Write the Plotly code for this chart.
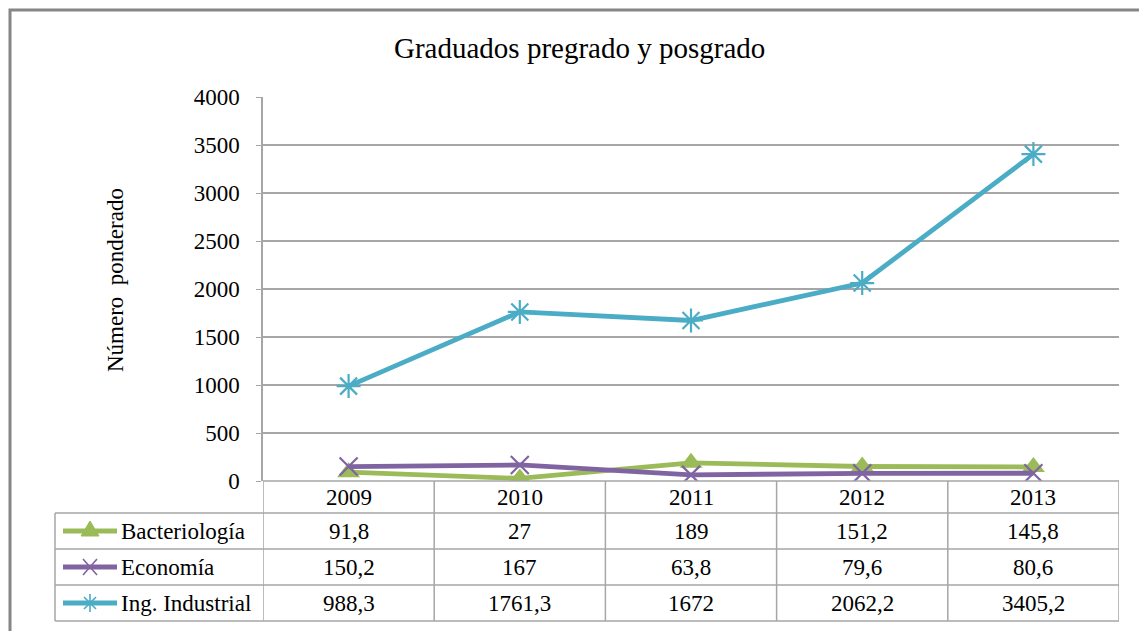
import plotly.graph_objects as go

# data
years = ['2009', '2010', '2011', '2012', '2013']
bacteriologia = [91.8, 27, 189, 151.2, 145.8]
economia = [150.2, 167, 63.8, 79.6, 80.6]
ing_industrial = [988.3, 1761.3, 1672, 2062.2, 3405.2]

series = [
    ('Bacteriología', bacteriologia, '#9BBB59', dict(symbol='triangle-up', size=20)),
    ('Economía', economia, '#8064A2', dict(symbol='x-thin-open', size=18, line=dict(width=2.2))),
    ('Ing. Industrial', ing_industrial, '#4BACC6', dict(symbol='asterisk-open', size=20, line=dict(width=2.2))),
]

# legend key glyphs (pixel paths around the key centre, y points up)
key_paths = {
    'triangle-up': ('M -9 -5 L 9 -5 L 0 10 Z', True),
    'x-thin-open': ('M -7 -8 L 7 8 M -7 8 L 7 -8', False),
    'asterisk-open': ('M 0 -9 L 0 9 M -8 0 L 8 0 M -6 -6 L 6 6 M -6 6 L 6 -6', False),
}

W, H = 1139, 631
L, R, T, B = 263, 1119, 97, 481
FONT = 'Liberation Serif'
GRID = '#A6A6A6'


def px(x):
    return (x - L) / (R - L)


def py(y):
    return (B - y) / (B - T)


fig = go.Figure()

for name, vals, color, marker in series:
    fig.add_trace(go.Scatter(
        x=years, y=vals, name=name, mode='lines+markers',
        line=dict(color=color, width=4.8),
        marker=dict(color=color, **marker),
        showlegend=False,
    ))

shapes = []
annotations = []

# outer chart border
shapes.append(dict(type='rect', xref='paper', yref='paper',
                   x0=px(10), x1=px(W + 10), y0=py(H + 10), y1=py(10),
                   line=dict(color='#868686', width=3), layer='below'))

# data table
rows = [(513, 549), (549, 585), (585, 621)]
tline = dict(color=GRID, width=1.5)
shapes.append(dict(type='line', xref='paper', yref='paper', x0=0, x1=1,
                   y0=py(481), y1=py(481), line=tline))
for top, bot in rows:
    shapes.append(dict(type='line', xref='paper', yref='paper', x0=px(55), x1=1,
                       y0=py(top), y1=py(top), line=tline))
shapes.append(dict(type='line', xref='paper', yref='paper', x0=px(55), x1=1,
                   y0=py(621), y1=py(621), line=tline))
shapes.append(dict(type='line', xref='paper', yref='paper', x0=px(55), x1=px(55),
                   y0=py(513), y1=py(621), line=tline))
for i in range(len(years) + 1):
    shapes.append(dict(type='line', xref='x', yref='paper', x0=i - 0.5, x1=i - 0.5,
                       y0=py(481), y1=py(621), line=tline))

tfont = dict(family=FONT, size=23, color='black')
for i, yr in enumerate(years):
    annotations.append(dict(x=i, y=py(497), xref='x', yref='paper', text=yr,
                            showarrow=False, font=tfont, xanchor='center', yanchor='middle'))

for (name, vals, color, marker), (top, bot) in zip(series, rows):
    cy = (top + bot) / 2
    annotations.append(dict(x=px(119), y=py(cy), xref='paper', yref='paper', text=name,
                            showarrow=False, font=tfont, xanchor='left', yanchor='middle'))
    for i, v in enumerate(vals):
        annotations.append(dict(x=i, y=py(cy), xref='x', yref='paper',
                                text=f'{v:g}'.replace('.', ','),
                                showarrow=False, font=tfont, xanchor='center', yanchor='middle'))
    # legend key line
    shapes.append(dict(type='line', xref='paper', yref='paper', x0=px(63), x1=px(117),
                       y0=py(cy), y1=py(cy), line=dict(color=color, width=5)))
    # legend key marker
    path, filled = key_paths[marker['symbol']]
    shapes.append(dict(type='path', xref='paper', yref='paper',
                       xsizemode='pixel', ysizemode='pixel',
                       xanchor=px(90), yanchor=py(cy), path=path,
                       fillcolor=color if filled else None,
                       line=dict(color=color, width=1 if filled else 1.6)))

# title and y axis title
annotations.append(dict(x=px(579), y=py(48), xref='paper', yref='paper',
                        text='Graduados pregrado y posgrado', showarrow=False,
                        xanchor='center', yanchor='middle',
                        font=dict(family=FONT, size=29, color='black')))
annotations.append(dict(x=px(115), y=py(280), xref='paper', yref='paper',
                        text='Número  ponderado', showarrow=False, textangle=-90,
                        xanchor='center', yanchor='middle',
                        font=dict(family=FONT, size=23, color='black')))

fig.update_layout(
    width=W, height=H,
    margin=dict(l=L, r=W - R, t=T, b=H - B),
    paper_bgcolor='white', plot_bgcolor='white',
    font=dict(family=FONT, size=22, color='black'),
    xaxis=dict(type='category', range=[-0.5, len(years) - 0.5], showticklabels=False,
               showgrid=False, zeroline=False, showline=False, ticks=''),
    yaxis=dict(range=[0, 4000], dtick=500, showgrid=True, gridcolor=GRID, gridwidth=1.5,
               zeroline=False, showline=True, linecolor=GRID, linewidth=1.5,
               ticks='outside', ticklen=5, tickcolor=GRID, tickfont=dict(family=FONT, size=23),
               ticklabelstandoff=12),
    shapes=shapes,
    annotations=annotations,
)

fig.write_html('out.html', config={'displayModeBar': False},
               post_script="document.body.style.margin='0px';")
